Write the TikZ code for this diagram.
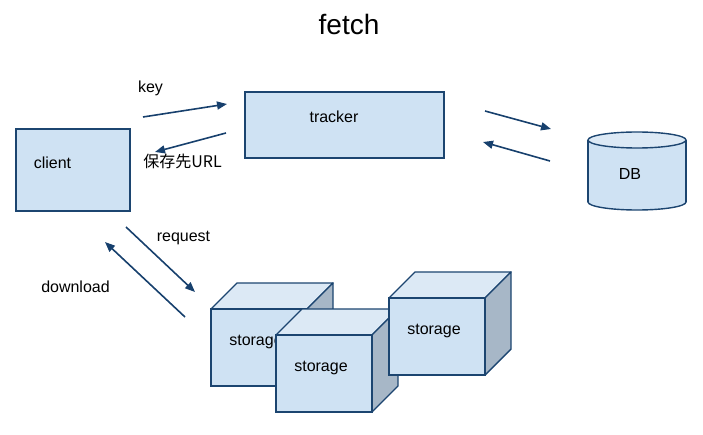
\documentclass[tikz,border=0pt]{standalone}
\usepackage{fontspec}
\setmainfont{Liberation Sans}
\newfontfamily\jpfont{Noto Sans CJK JP}
\usetikzlibrary{arrows.meta}
\definecolor{boxfill}{HTML}{CFE2F3}
\definecolor{topfill}{HTML}{DCE9F5}
\definecolor{sidefill}{HTML}{A7B7C7}
\definecolor{boxline}{HTML}{1C4570}
\definecolor{arrowblue}{HTML}{17406D}
\tikzset{
    box/.style={draw=boxline, fill=boxfill, line width=1.4pt},
    cubetop/.style={draw=boxline, fill=topfill, line width=1.4pt, line join=round},
    cubeside/.style={draw=boxline, fill=sidefill, line width=1.4pt, line join=round},
    flow/.style={draw=arrowblue, line width=1.6pt, -{Triangle[length=10pt,width=8pt]}},
    lbl/.style={font=\fontsize{16}{19}\selectfont, inner sep=0pt, text depth=0pt}
}
\begin{document}
\begin{tikzpicture}[x=1pt, y=-1pt]
    \useasboundingbox (0,0) rectangle (703,435);

    % Title
    \node[font=\fontsize{28}{32}\selectfont, inner sep=0pt] (title) at (349,24) {fetch};

    % client and tracker boxes
    \node[box, minimum width=114pt, minimum height=82pt, inner sep=0pt] (client) at (73,170) {};
    \node[lbl] (clientlbl) at (52.5,163) {client};
    \node[box, minimum width=199pt, minimum height=66pt, inner sep=0pt] (tracker) at (344.5,125) {};
    \node[lbl] (trackerlbl) at (334,117) {tracker};

    % DB cylinder: bottom ellipse, body, top ellipse
    \draw[box] (637,202) ellipse [x radius=49, y radius=8];
    \fill[boxfill] (588,140) rectangle (686,202);
    \draw[boxline, line width=1.4pt] (588,140) -- (588,202);
    \draw[boxline, line width=1.4pt] (686,140) -- (686,202);
    \draw[cubetop] (637,140) ellipse [x radius=49, y radius=8];
    \node[lbl] (DB) at (630,174) {DB};

    % storage cube 1 (back)
    \begin{scope}[shift={(211,309)}]
        \draw[cubetop] (0,0) -- (26,-26) -- (122,-26) -- (96,0) -- cycle;
        \draw[cubeside] (96,0) -- (122,-26) -- (122,51) -- (96,77) -- cycle;
        \draw[box] (0,0) rectangle (96,77);
        \node[lbl] (storage1) at (45,31.5) {storage};
    \end{scope}

    % storage cube 2 (front)
    \begin{scope}[shift={(276,335)}]
        \draw[cubetop] (0,0) -- (26,-26) -- (122,-26) -- (96,0) -- cycle;
        \draw[cubeside] (96,0) -- (122,-26) -- (122,51) -- (96,77) -- cycle;
        \draw[box] (0,0) rectangle (96,77);
        \node[lbl] (storage2) at (45,31.5) {storage};
    \end{scope}

    % storage cube 3 (right)
    \begin{scope}[shift={(389,298)}]
        \draw[cubetop] (0,0) -- (26,-26) -- (122,-26) -- (96,0) -- cycle;
        \draw[cubeside] (96,0) -- (122,-26) -- (122,51) -- (96,77) -- cycle;
        \draw[box] (0,0) rectangle (96,77);
        \node[lbl] (storage3) at (45,31.5) {storage};
    \end{scope}

    % Arrow end points
    \coordinate (key-a) at (143,117);
    \coordinate (key-b) at (227,104);
    \coordinate (url-a) at (226,133);
    \coordinate (url-b) at (155,152);
    \coordinate (db-a) at (485,111);
    \coordinate (db-b) at (551,129);
    \coordinate (tr-a) at (550,161);
    \coordinate (tr-b) at (483,142);
    \coordinate (req-a) at (126,227);
    \coordinate (req-b) at (195,292);
    \coordinate (dl-a) at (185,317);
    \coordinate (dl-b) at (105,242);

    % Arrows
    \draw[flow] (key-a) -- (key-b);
    \draw[flow] (url-a) -- (url-b);
    \draw[flow] (db-a) -- (db-b);
    \draw[flow] (tr-a) -- (tr-b);
    \draw[flow] (req-a) -- (req-b);
    \draw[flow] (dl-a) -- (dl-b);

    % Arrow labels
    \node[lbl] (keylbl) at (150.5,87) {key};
    \node[lbl, font=\jpfont\fontsize{16}{19}\selectfont] (urllbl) at (182.5,161) {保存先URL};
    \node[lbl] (reqlbl) at (183.5,236) {request};
    \node[lbl] (dllbl) at (75.5,287) {download};
\end{tikzpicture}
\end{document}
